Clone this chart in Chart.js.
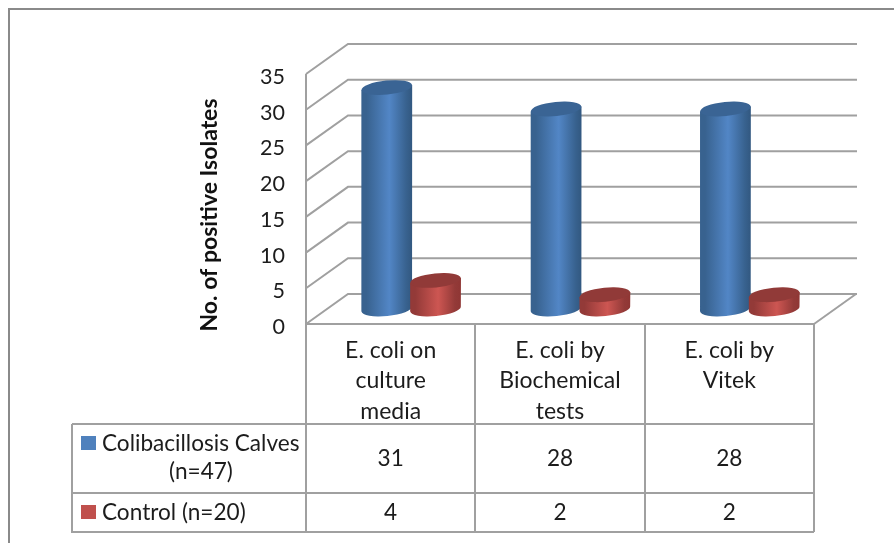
<!DOCTYPE html>
<html>
<head>
<meta charset="utf-8">
<style>
    html, body { margin: 0; padding: 0; background: #ffffff; }
    canvas { display: block; }
</style>
<script src="https://cdn.jsdelivr.net/npm/chart.js@4/dist/chart.umd.js"></script>
</head>
<body>
<canvas id="chart" width="894" height="543"></canvas>
<script>
const categories = [
    ['E. coli on', 'culture', 'media'],
    ['E. coli by', 'Biochemical', 'tests'],
    ['E. coli by', 'Vitek'],
];
const calvesName = ['Colibacillosis Calves', '(n=47)'];
const controlName = ['Control (n=20)'];
const calvesValues = [31, 28, 28];
const controlValues = [4, 2, 2];
const yTicks = [0, 5, 10, 15, 20, 25, 30, 35];
const yTitle = 'No. of positive Isolates';

const FONT = 'Lato, Carlito, sans-serif';
const GRID = '#a0a0a0';
const FRAME = '#8a8a8a';
const DEPTH_X = 42;
const DEPTH_Y = -30;

const BLUE = { legend: '#4f81bd', cap: '#3a6494', edgeL: '#38628f', mid: '#5286c6', edgeR: '#325880', nudge: 0.5 };
const RED = { legend: '#c0504d', cap: '#913a38', edgeL: '#933a38', mid: '#cd5652', edgeR: '#8f3634', nudge: -1.5 };

function line(ctx, x1, y1, x2, y2) {
    ctx.beginPath();
    ctx.moveTo(x1, y1);
    ctx.lineTo(x2, y2);
    ctx.stroke();
}

// back wall, left wall and floor of the 3D box
const wallsPlugin = {
    id: 'walls',
    beforeDatasetsDraw(chart) {
        const { ctx, chartArea: area, scales: { y } } = chart;
        ctx.save();
        ctx.strokeStyle = GRID;
        ctx.lineWidth = 2;
        yTicks.forEach(tick => {
            const py = y.getPixelForValue(tick);
            ctx.beginPath();
            ctx.moveTo(area.left, py);
            ctx.lineTo(area.left + DEPTH_X, py + DEPTH_Y);
            ctx.lineTo(area.right + DEPTH_X + 1, py + DEPTH_Y);
            ctx.stroke();
        });
        line(ctx, area.right, area.bottom, area.right + DEPTH_X, area.bottom + DEPTH_Y);
        line(ctx, area.left, area.top, area.left, area.bottom);
        line(ctx, area.left, area.bottom, area.right, area.bottom);
        ctx.restore();
    },
};

function drawCylinder(ctx, x, top, base, width, colors) {
    const rx = width / 2;
    const ry = 7;
    const tilt = -0.1;
    const lift = Math.sin(tilt) * rx;

    const side = ctx.createLinearGradient(x - rx, 0, x + rx, 0);
    side.addColorStop(0, colors.edgeL);
    side.addColorStop(0.1, colors.edgeL);
    side.addColorStop(0.55, colors.mid);
    side.addColorStop(0.88, colors.edgeL);
    side.addColorStop(1, colors.edgeR);

    ctx.fillStyle = side;
    ctx.beginPath();
    ctx.moveTo(x - rx, top - lift);
    ctx.lineTo(x - rx, base - lift);
    ctx.ellipse(x, base, rx, ry, tilt, Math.PI, 0, true);
    ctx.lineTo(x + rx, top + lift);
    ctx.closePath();
    ctx.fill();

    ctx.fillStyle = colors.cap;
    ctx.beginPath();
    ctx.ellipse(x, top, rx, ry, tilt, 0, Math.PI * 2);
    ctx.fill();
}

// the bars sit halfway back in the box, so they are pushed by half the depth
const cylindersPlugin = {
    id: 'cylinders',
    afterDatasetsDraw(chart) {
        const { ctx } = chart;
        const palette = [BLUE, RED];
        ctx.save();
        ctx.translate(DEPTH_X / 2, DEPTH_Y / 2);
        categories.forEach((_, index) => {
            chart.data.datasets.forEach((_, datasetIndex) => {
                const bar = chart.getDatasetMeta(datasetIndex).data[index];
                const colors = palette[datasetIndex];
                drawCylinder(ctx, bar.x + colors.nudge, bar.y, bar.base, bar.width, colors);
            });
        });
        ctx.restore();
    },
};

// data table under the plot, plus the rotated axis title and the outer frame
const tablePlugin = {
    id: 'dataTable',
    afterDraw(chart) {
        const { ctx, chartArea: area, scales: { x } } = chart;
        const rows = [
            { name: calvesName, values: calvesValues, colors: BLUE, top: 424, bottom: 493 },
            { name: controlName, values: controlValues, colors: RED, top: 493, bottom: 532 },
        ];
        const step = (area.right - area.left) / categories.length;
        const tableLeft = 72;
        const tableBottom = 532;
        const nameCenter = 201;

        ctx.save();
        ctx.strokeStyle = GRID;
        ctx.lineWidth = 2;
        for (let i = 0; i <= categories.length; i++) {
            const px = Math.round(area.left + step * i);
            line(ctx, px, area.bottom, px, tableBottom);
        }
        line(ctx, tableLeft, 424, tableLeft, tableBottom + 1);
        rows.forEach(row => line(ctx, tableLeft, row.top, area.right, row.top));
        line(ctx, tableLeft, tableBottom, area.right, tableBottom);

        ctx.fillStyle = '#1c1c1c';
        ctx.font = '22.6px ' + FONT;
        ctx.textBaseline = 'middle';
        rows.forEach((row, r) => {
            const middle = (row.top + row.bottom) / 2;
            ctx.textAlign = 'center';
            row.values.forEach((value, i) => {
                ctx.fillText(String(value), x.getPixelForTick(i), middle);
            });

            const swatchY = r === 0 ? 436 : 505;
            ctx.save();
            ctx.fillStyle = row.colors.legend;
            ctx.fillRect(81, swatchY, 15, 14);
            ctx.restore();

            ctx.textAlign = 'left';
            ctx.fillText(row.name[0], 102, r === 0 ? 444 : 513);
            if (row.name[1]) {
                ctx.textAlign = 'center';
                ctx.fillText(row.name[1], nameCenter, 472);
            }
        });

        ctx.strokeStyle = FRAME;
        ctx.beginPath();
        ctx.moveTo(9, 543);
        ctx.lineTo(9, 9);
        ctx.lineTo(894, 9);
        ctx.stroke();

        ctx.translate(210, 215);
        ctx.rotate(-Math.PI / 2);
        ctx.fillStyle = '#111111';
        ctx.font = 'bold 23px ' + FONT;
        ctx.textAlign = 'center';
        ctx.fillText(yTitle, 0, 0);
        ctx.restore();
    },
};

new Chart(document.getElementById('chart'), {
    type: 'bar',
    data: {
        labels: categories,
        datasets: [
            { label: calvesName.join(' '), data: calvesValues, backgroundColor: 'transparent' },
            { label: controlName.join(' '), data: controlValues, backgroundColor: 'transparent' },
        ],
    },
    options: {
        responsive: false,
        animation: false,
        layout: { padding: { top: 74, right: 80, left: 0, bottom: 0 } },
        datasets: { bar: { categoryPercentage: 0.6, barPercentage: 1 } },
        plugins: {
            legend: { display: false },
            tooltip: { enabled: false },
        },
        scales: {
            x: {
                border: { display: false },
                grid: { display: false },
                afterFit: scale => { scale.height = 219; },
                ticks: {
                    color: '#1c1c1c',
                    font: { family: FONT, size: 23, lineHeight: '30.5px' },
                    padding: 3,
                    maxRotation: 0,
                    autoSkip: false,
                },
            },
            y: {
                min: 0,
                max: 35,
                border: { display: false },
                grid: { display: false },
                afterFit: scale => { scale.width = 306; },
                ticks: {
                    stepSize: 5,
                    color: '#1c1c1c',
                    font: { family: FONT, size: 21.5 },
                    padding: 13,
                    labelOffset: 3,
                },
            },
        },
    },
    plugins: [wallsPlugin, cylindersPlugin, tablePlugin],
});
</script>
</body>
</html>
